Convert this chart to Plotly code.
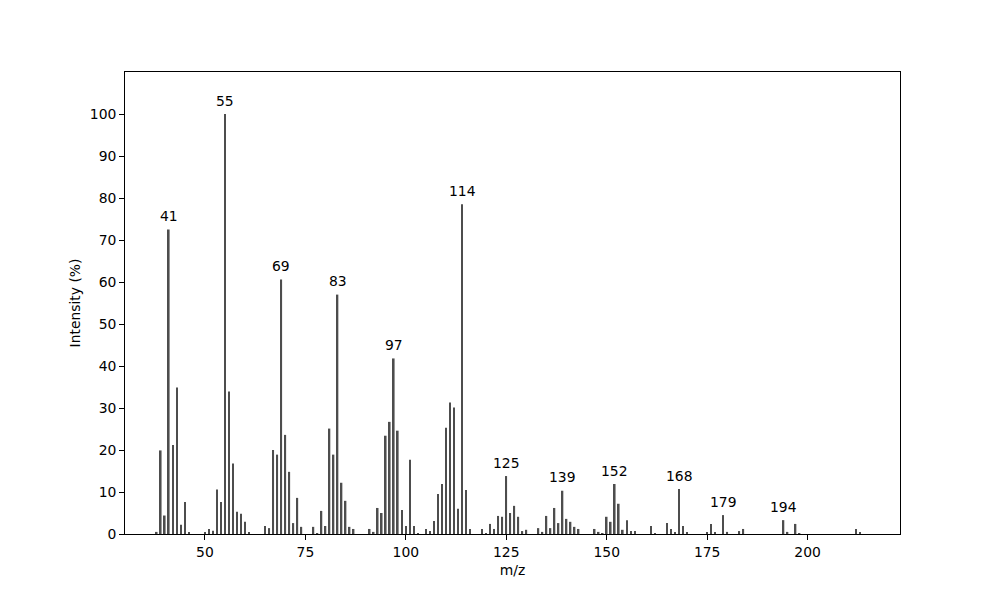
import plotly.graph_objects as go

# peaks (m/z, relative intensity %)
mz = [38, 39, 40, 41, 42, 43, 44, 45, 46,
      50, 51, 52, 53, 54, 55, 56, 57, 58, 59, 60, 61,
      65, 66, 67, 68, 69, 70, 71, 72, 73, 74,
      77, 78, 79, 80, 81, 82, 83, 84, 85, 86, 87,
      91, 92, 93, 94, 95, 96, 97, 98, 99, 100, 101, 102, 103,
      105, 106, 107, 108, 109, 110, 111, 112, 113, 114, 115, 116,
      119, 120, 121, 122, 123, 124, 125, 126, 127, 128, 129, 130,
      133, 134, 135, 136, 137, 138, 139, 140, 141, 142, 143,
      147, 148, 149, 150, 151, 152, 153, 154, 155, 156, 157,
      161, 162, 165, 166, 167, 168, 169, 170,
      175, 176, 177, 179, 180, 183, 184,
      194, 195, 197, 198, 212, 213]
intensity = [0.5, 19.9, 4.4, 72.5, 21.2, 34.9, 2.2, 7.6, 0.4,
             0.4, 1.2, 0.8, 10.6, 7.6, 100.0, 33.9, 16.8, 5.3, 4.8, 2.9, 0.5,
             1.9, 1.4, 20.0, 18.9, 60.6, 23.6, 14.8, 2.6, 8.6, 1.7,
             1.7, 0.2, 5.5, 1.9, 25.1, 18.9, 57.0, 12.2, 7.9, 1.7, 1.2,
             1.2, 0.5, 6.2, 5.0, 23.4, 26.7, 41.8, 24.6, 5.7, 1.9, 17.7, 1.9, 0.2,
             1.2, 0.7, 3.1, 9.5, 11.9, 25.3, 31.3, 30.1, 6.0, 78.5, 10.5, 1.2,
             1.2, 0.2, 2.4, 1.2, 4.3, 4.1, 13.8, 5.0, 6.7, 4.1, 0.7, 1.0,
             1.4, 0.5, 4.3, 1.4, 6.2, 2.6, 10.3, 3.6, 2.9, 1.7, 1.2,
             1.2, 0.5, 0.2, 4.1, 2.9, 11.9, 7.2, 1.0, 3.3, 0.7, 0.7,
             1.9, 0.2, 2.6, 1.2, 0.5, 10.7, 1.9, 0.5,
             0.3, 2.4, 0.3, 4.5, 0.5, 0.7, 1.2,
             3.3, 0.5, 2.4, 0.2, 1.2, 0.5]

labelled = [41, 55, 69, 83, 97, 114, 125, 139, 152, 168, 179, 194]

font = dict(family="DejaVu Sans", size=13.9, color="black")

fig = go.Figure()
fig.add_trace(go.Bar(x=mz, y=intensity, width=0.4,
                     marker=dict(color="#4d4d4d", line=dict(width=0))))

for m in labelled:
    i = mz.index(m)
    fig.add_annotation(x=m, y=intensity[i] + 0.8, text=str(m), showarrow=False,
                       yanchor="bottom", xanchor="center", font=font)

axis = dict(showgrid=False, zeroline=False, showline=True, linecolor="black",
            linewidth=1, mirror=True, ticks="outside", ticklen=4.9,
            tickcolor="black", tickfont=font)

# page body has an 8px margin, so the plot box is nudged back by that
fig.update_layout(
    width=1000, height=600,
    margin=dict(l=117, r=108, t=64, b=74),
    paper_bgcolor="white", plot_bgcolor="white",
    showlegend=False, font=font,
    xaxis=dict(axis, range=[30.1, 223.0], tickvals=[50, 75, 100, 125, 150, 175, 200],
               title=dict(text="m/z", font=font, standoff=6)),
    yaxis=dict(axis, range=[0, 110], tickvals=list(range(0, 101, 10)),
               title=dict(text="Intensity (%)", font=font, standoff=5)),
)

fig.write_html("out.html")
